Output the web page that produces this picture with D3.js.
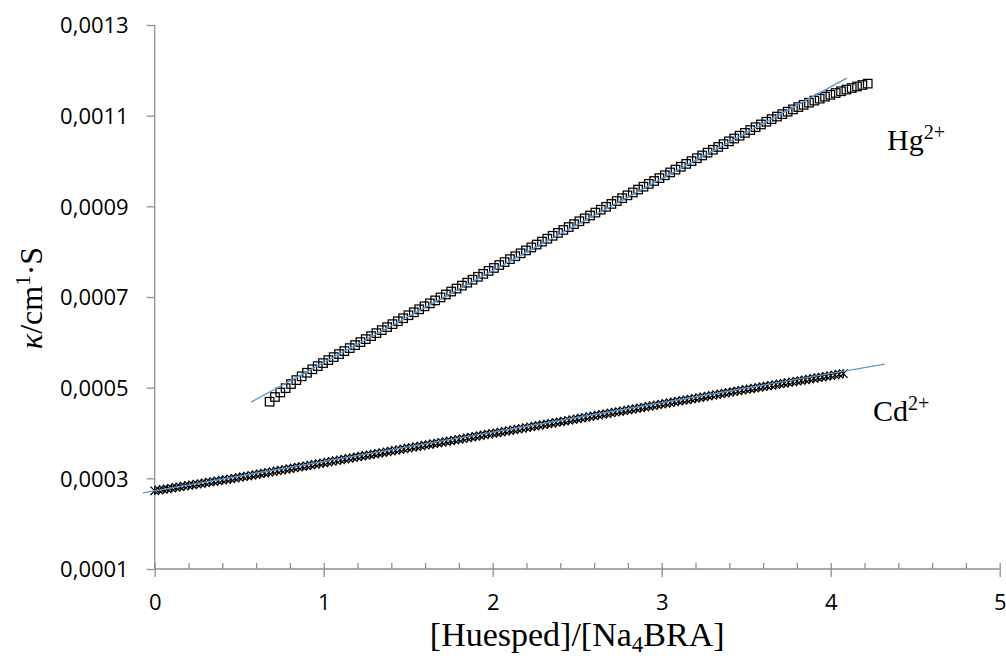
<!DOCTYPE html>
<html><head><meta charset="utf-8">
<script src="https://cdn.jsdelivr.net/npm/d3@7"></script>
<style>html,body{margin:0;padding:0;background:#fff;}</style>
</head><body>
<svg id="chart" width="1006" height="656"></svg>
<script>
// ---- data ----
const xTicks = [0, 1, 2, 3, 4, 5];
const yTicks = [0.0001, 0.0003, 0.0005, 0.0007, 0.0009, 0.0011, 0.0013];
const xTickLabels = ["0", "1", "2", "3", "4", "5"];
const yTickLabels = ["0,0001", "0,0003", "0,0005", "0,0007", "0,0009", "0,0011", "0,0013"];

const hgX = [0.6800,0.7116,0.7432,0.7748,0.8064,0.8380,0.8696,0.9012,0.9328,0.9644,
0.9960,1.0276,1.0592,1.0908,1.1224,1.1540,1.1856,1.2172,1.2488,1.2804,
1.3120,1.3436,1.3752,1.4068,1.4384,1.4700,1.5016,1.5332,1.5648,1.5964,
1.6280,1.6596,1.6912,1.7228,1.7544,1.7860,1.8176,1.8492,1.8808,1.9124,
1.9440,1.9756,2.0072,2.0388,2.0704,2.1020,2.1336,2.1652,2.1968,2.2284,
2.2600,2.2916,2.3232,2.3548,2.3864,2.4180,2.4496,2.4812,2.5128,2.5444,
2.5760,2.6076,2.6392,2.6708,2.7024,2.7340,2.7656,2.7972,2.8288,2.8604,
2.8920,2.9236,2.9552,2.9868,3.0184,3.0500,3.0816,3.1132,3.1448,3.1764,
3.2080,3.2396,3.2712,3.3028,3.3344,3.3660,3.3976,3.4292,3.4608,3.4924,
3.5240,3.5556,3.5872,3.6188,3.6504,3.6820,3.7136,3.7452,3.7768,3.8084,
3.8400,3.8716,3.9032,3.9348,3.9664,3.9980,4.0296,4.0612,4.0928,4.1244,
4.1560,4.1876,4.2192];
const hgY = [0.0004690,0.0004794,0.0004894,0.0004989,0.0005080,0.0005167,0.0005250,0.0005329,0.0005405,0.0005475,
0.0005542,0.0005608,0.0005674,0.0005741,0.0005807,0.0005873,0.0005939,0.0006005,0.0006071,0.0006137,
0.0006203,0.0006269,0.0006335,0.0006401,0.0006466,0.0006532,0.0006598,0.0006663,0.0006729,0.0006794,
0.0006860,0.0006925,0.0006990,0.0007056,0.0007121,0.0007186,0.0007251,0.0007316,0.0007381,0.0007446,
0.0007511,0.0007576,0.0007641,0.0007705,0.0007770,0.0007835,0.0007899,0.0007964,0.0008028,0.0008093,
0.0008157,0.0008222,0.0008286,0.0008350,0.0008414,0.0008479,0.0008543,0.0008607,0.0008671,0.0008734,
0.0008798,0.0008862,0.0008926,0.0008989,0.0009053,0.0009116,0.0009180,0.0009243,0.0009306,0.0009370,
0.0009433,0.0009496,0.0009559,0.0009622,0.0009685,0.0009748,0.0009810,0.0009873,0.0009936,0.0009998,
0.0010061,0.0010123,0.0010185,0.0010248,0.0010310,0.0010372,0.0010434,0.0010496,0.0010558,0.0010620,
0.0010683,0.0010746,0.0010806,0.0010866,0.0010923,0.0010980,0.0011034,0.0011088,0.0011139,0.0011190,
0.0011239,0.0011286,0.0011332,0.0011376,0.0011419,0.0011460,0.0011500,0.0011538,0.0011575,0.0011610,
0.0011644,0.0011676,0.0011707];

const cdX = [0,0.025,0.05,0.075,0.1,0.125,0.15,0.175,0.2,0.225,0.25,0.275,0.3,0.325,0.35,0.375,0.4,0.425,0.45,0.475,
0.5,0.525,0.55,0.575,0.6,0.625,0.65,0.675,0.7,0.725,0.75,0.775,0.8,0.825,0.85,0.875,0.9,0.925,0.95,0.975,
1,1.025,1.05,1.075,1.1,1.125,1.15,1.175,1.2,1.225,1.25,1.275,1.3,1.325,1.35,1.375,1.4,1.425,1.45,1.475,
1.5,1.525,1.55,1.575,1.6,1.625,1.65,1.675,1.7,1.725,1.75,1.775,1.8,1.825,1.85,1.875,1.9,1.925,1.95,1.975,
2,2.025,2.05,2.075,2.1,2.125,2.15,2.175,2.2,2.225,2.25,2.275,2.3,2.325,2.35,2.375,2.4,2.425,2.45,2.475,
2.5,2.525,2.55,2.575,2.6,2.625,2.65,2.675,2.7,2.725,2.75,2.775,2.8,2.825,2.85,2.875,2.9,2.925,2.95,2.975,
3,3.025,3.05,3.075,3.1,3.125,3.15,3.175,3.2,3.225,3.25,3.275,3.3,3.325,3.35,3.375,3.4,3.425,3.45,3.475,
3.5,3.525,3.55,3.575,3.6,3.625,3.65,3.675,3.7,3.725,3.75,3.775,3.8,3.825,3.85,3.875,3.9,3.925,3.95,3.975,
4,4.025,4.05,4.075];
const cdY = [0.0002725,0.0002740,0.0002754,0.0002769,0.0002784,0.0002798,0.0002813,0.0002828,0.0002842,0.0002857,
0.0002872,0.0002886,0.0002901,0.0002916,0.0002930,0.0002945,0.0002960,0.0002974,0.0002989,0.0003004,
0.0003019,0.0003035,0.0003051,0.0003067,0.0003083,0.0003099,0.0003116,0.0003132,0.0003148,0.0003164,
0.0003180,0.0003196,0.0003213,0.0003229,0.0003245,0.0003261,0.0003277,0.0003293,0.0003310,0.0003326,
0.0003342,0.0003358,0.0003374,0.0003391,0.0003407,0.0003423,0.0003439,0.0003455,0.0003471,0.0003488,
0.0003504,0.0003520,0.0003536,0.0003552,0.0003568,0.0003585,0.0003601,0.0003617,0.0003633,0.0003649,
0.0003666,0.0003682,0.0003698,0.0003714,0.0003730,0.0003746,0.0003763,0.0003779,0.0003795,0.0003811,
0.0003827,0.0003843,0.0003860,0.0003876,0.0003892,0.0003908,0.0003924,0.0003940,0.0003957,0.0003973,
0.0003989,0.0004005,0.0004021,0.0004038,0.0004054,0.0004070,0.0004086,0.0004102,0.0004118,0.0004135,
0.0004151,0.0004167,0.0004183,0.0004199,0.0004215,0.0004232,0.0004248,0.0004264,0.0004280,0.0004296,
0.0004313,0.0004329,0.0004345,0.0004361,0.0004377,0.0004393,0.0004410,0.0004426,0.0004442,0.0004458,
0.0004474,0.0004490,0.0004507,0.0004523,0.0004539,0.0004555,0.0004571,0.0004588,0.0004604,0.0004620,
0.0004636,0.0004652,0.0004668,0.0004685,0.0004701,0.0004717,0.0004733,0.0004749,0.0004765,0.0004782,
0.0004798,0.0004814,0.0004830,0.0004846,0.0004862,0.0004879,0.0004895,0.0004911,0.0004927,0.0004943,
0.0004960,0.0004975,0.0004990,0.0005005,0.0005021,0.0005036,0.0005051,0.0005067,0.0005082,0.0005097,
0.0005113,0.0005128,0.0005143,0.0005158,0.0005174,0.0005189,0.0005204,0.0005220,0.0005235,0.0005250,
0.0005266,0.0005281,0.0005296,0.0005312];

const hgTrendX = [0.57, 4.095];
const hgTrendY = [0.000468, 0.001183];
const cdTrendX = [-0.07, 4.32];
const cdTrendY = [0.000268, 0.000552];

const seriesLabels = [
  {base: "Hg", sup: "2+", x: 4.333, y: 0.001025},
  {base: "Cd", sup: "2+", x: 4.25, y: 0.000426}
];

// ---- drawing ----
const svg = d3.select("#chart");
const x = d3.scaleLinear().domain([0, 5]).range([154.7, 999.7]);
const y = d3.scaleLinear().domain([0.0001, 0.0013]).range([569, 25]);
const axisColor = "#8f8f8f";
const tickFont = "'Open Sans', sans-serif";
const serif = "'Liberation Serif', 'Times New Roman', serif";

// y axis
const yAxis = d3.axisLeft(y).tickValues(yTicks).tickSize(8)
  .tickFormat((d, i) => yTickLabels[i]);
const gy = svg.append("g").attr("transform", `translate(${x(0)},0)`).call(yAxis);
gy.select(".domain").attr("stroke", axisColor).attr("stroke-width", 1.3).attr("d", `M0,${y(0.0013)}V${y(0.0001)}`);
gy.selectAll(".tick line").attr("stroke", axisColor).attr("stroke-width", 1.3);
gy.selectAll(".tick text").attr("font-family", tickFont).attr("font-size", 22)
  .attr("fill", "#000").attr("x", -26).attr("dy", "0.36em");

// x axis
const xMinor = [0.2,0.4,0.6,0.8,1.2,1.4,1.6,1.8,2.2,2.4,2.6,2.8,3.2,3.4,3.6,3.8,4.2,4.4,4.6,4.8];
const xAxisMinor = d3.axisBottom(x).tickValues(xMinor).tickSize(-6).tickFormat("");
const gxm = svg.append("g").attr("transform", `translate(0,${y(0.0001)})`).call(xAxisMinor);
gxm.select(".domain").remove();
gxm.selectAll(".tick line").attr("stroke", axisColor).attr("stroke-width", 1.3);

const xAxis = d3.axisBottom(x).tickValues(xTicks).tickSize(8)
  .tickFormat((d, i) => xTickLabels[i]);
const gx = svg.append("g").attr("transform", `translate(0,${y(0.0001)})`).call(xAxis);
gx.select(".domain").attr("stroke", axisColor).attr("stroke-width", 1.3).attr("d", `M${x(0)},0H${x(5)}`);
gx.selectAll(".tick line").attr("stroke", axisColor).attr("stroke-width", 1.3).attr("y1", -6);
gx.selectAll(".tick text").attr("font-family", tickFont).attr("font-size", 22)
  .attr("fill", "#000").attr("y", 25).attr("dy", "0.71em");

// Cd markers (star)
const cdData = cdX.map((v, i) => [v, cdY[i]]);
const s = 4.2;
svg.append("g").selectAll("path").data(cdData).join("path")
  .attr("transform", d => `translate(${x(d[0])},${y(d[1])})`)
  .attr("d", `M${-s},${-s}L${s},${s}M${-s},${s}L${s},${-s}M0,${-s}L0,${s}`)
  .attr("stroke", "#000").attr("stroke-width", 1.2).attr("fill", "none");

// Hg markers (squares)
const hgData = hgX.map((v, i) => [v, hgY[i]]);
const q = 8.5;
svg.append("g").selectAll("rect").data(hgData).join("rect")
  .attr("x", d => x(d[0]) - q / 2).attr("y", d => y(d[1]) - q / 2)
  .attr("width", q).attr("height", q)
  .attr("fill", "none").attr("stroke", "#000").attr("stroke-width", 1.25);

// trend lines
const line = d3.line().x(d => x(d[0])).y(d => y(d[1]));
[[hgTrendX, hgTrendY], [cdTrendX, cdTrendY]].forEach(([tx, ty]) => {
  svg.append("path").datum(tx.map((v, i) => [v, ty[i]]))
    .attr("d", line).attr("stroke", "#5b9bd5").attr("stroke-width", 1.4).attr("fill", "none");
});

// series labels
seriesLabels.forEach(l => {
  const t = svg.append("text").attr("x", x(l.x)).attr("y", y(l.y))
    .attr("font-family", serif).attr("font-size", 30).attr("fill", "#000");
  t.append("tspan").text(l.base);
  t.append("tspan").text(l.sup).attr("font-size", 20).attr("dy", -11);
});

// x title
const xt = svg.append("text").attr("x", (x(0) + x(5)) / 2).attr("y", 646).attr("text-anchor", "middle")
  .attr("font-family", serif).attr("font-size", 34).attr("fill", "#000");
xt.append("tspan").text("[Huesped]/[Na");
xt.append("tspan").text("4").attr("font-size", 23).attr("dy", 6);
xt.append("tspan").text("BRA]").attr("dy", -6);

// y title
const yt = svg.append("text").attr("transform", "translate(42,298) rotate(-90)").attr("text-anchor", "middle")
  .attr("font-family", serif).attr("font-size", 32).attr("fill", "#000");
yt.append("tspan").text("κ").attr("font-style", "italic");
yt.append("tspan").text("/cm");
yt.append("tspan").text("1").attr("font-size", 21).attr("dy", -12);
yt.append("tspan").text("·S").attr("dy", 12);
</script>
</body></html>
